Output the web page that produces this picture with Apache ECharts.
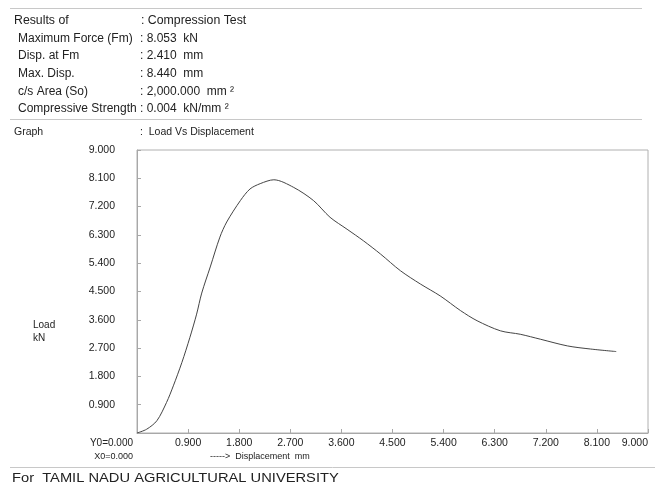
<!DOCTYPE html>
<html>
<head>
<meta charset="utf-8">
<script src="https://cdn.jsdelivr.net/npm/echarts@6/dist/echarts.min.js"></script>
<style>
  html, body { margin: 0; padding: 0; background: #fff; }
  #chart { width: 655px; height: 484px; }
</style>
</head>
<body>
<div id="chart"></div>
<script>
// test summary printed above the graph
const resultLabels = ["Maximum Force (Fm)", "Disp. at Fm", "Max. Disp.", "c/s Area (So)", "Compressive Strength"]
const resultValues = ["8.053  kN", "2.410  mm", "8.440  mm", "2,000.000  mm ²", "0.004  kN/mm ²"]

// load vs displacement curve
const dispMm = [0, 0.17, 0.35, 0.52, 0.64, 0.79, 0.93, 1.05, 1.14, 1.29, 1.46, 1.58, 1.82, 1.99, 2.17, 2.41,
  2.76, 3.11, 3.40, 3.70, 3.99, 4.29, 4.64, 4.99, 5.34, 5.70, 5.99, 6.40, 6.75, 7.11, 7.58, 7.99, 8.44]
const loadKn = [0, 0.12, 0.39, 0.97, 1.5, 2.24, 3.03, 3.78, 4.45, 5.28, 6.23, 6.71, 7.39, 7.76, 7.93, 8.053,
  7.81, 7.39, 6.86, 6.48, 6.11, 5.69, 5.16, 4.74, 4.36, 3.89, 3.57, 3.25, 3.14, 2.98, 2.77, 2.67, 2.59]

const tickStep = 0.9
const axisMax = 9

const font = "'Liberation Sans', Arial, sans-serif"
const ink = "#222"
const rule = "#c8c8c8"

const text = (x, y, str, size, extra, scaleX) => ({
  type: "text", x, y, scaleX: scaleX || 1,
  style: Object.assign({ text: str, fill: ink, font: `${size}px ${font}`, textVerticalAlign: "middle" }, extra || {}),
})
const hline = (y, x1, x2) => ({
  type: "line", shape: { x1, y1: y, x2, y2: y }, style: { stroke: rule, lineWidth: 1 },
})

const graphics = [
  hline(8.5, 10, 642),
  text(14, 21, "Results of", 12.3),
  text(141, 21, ": Compression Test", 12.3),
  hline(119.5, 10, 642),
  text(14, 132, "Graph", 10.5),
  text(140, 132, ":  Load Vs Displacement", 10.5),
  text(33, 325, "Load", 10),
  text(33, 338, "kN", 10),
  text(133, 443, "Y0=0.000", 10, { textAlign: "right" }),
  text(133, 457, "X0=0.000", 9, { textAlign: "right" }),
  text(210, 457, "----->  Displacement  mm", 9),
  hline(467.5, 10, 655),
  text(12, 478, "For  TAMIL NADU AGRICULTURAL UNIVERSITY", 13, null, 1.13),
]
resultLabels.forEach((label, i) => {
  const y = 38.5 + i * 17.6
  graphics.push(text(18, y, label, 12))
  graphics.push(text(140, y, ": " + resultValues[i], 12))
})

const chart = echarts.init(document.getElementById("chart"))
chart.setOption({
  backgroundColor: "#fff",
  animation: false,
  textStyle: { fontFamily: font },
  grid: {
    left: 137, right: 7, top: 150, bottom: 51,
    containLabel: false, outerBoundsMode: "none",
    show: true, borderColor: "#b0b0b0", borderWidth: 1,
  },
  xAxis: {
    type: "value", min: 0, max: axisMax, interval: tickStep,
    axisLine: { show: true, lineStyle: { color: "#a8a8a8" } },
    axisTick: { show: true, inside: true, length: 4, lineStyle: { color: "#a8a8a8" } },
    splitLine: { show: false },
    axisLabel: {
      color: ink, fontSize: 10.5, margin: 5, alignMaxLabel: "right",
      formatter: (v) => (v === 0 ? "" : v.toFixed(3)),
    },
  },
  yAxis: {
    type: "value", min: 0, max: axisMax, interval: tickStep,
    axisLine: { show: true, lineStyle: { color: "#a8a8a8" } },
    axisTick: { show: true, inside: true, length: 4, lineStyle: { color: "#a8a8a8" } },
    splitLine: { show: false },
    axisLabel: {
      color: ink, fontSize: 10.5, margin: 22,
      formatter: (v) => (v === 0 ? "" : v.toFixed(3)),
    },
  },
  series: [{
    type: "line",
    data: dispMm.map((d, i) => [d, loadKn[i]]),
    smooth: 0.3,
    showSymbol: false,
    lineStyle: { color: "#444", width: 1 },
  }],
  graphic: graphics,
})
</script>
</body>
</html>
